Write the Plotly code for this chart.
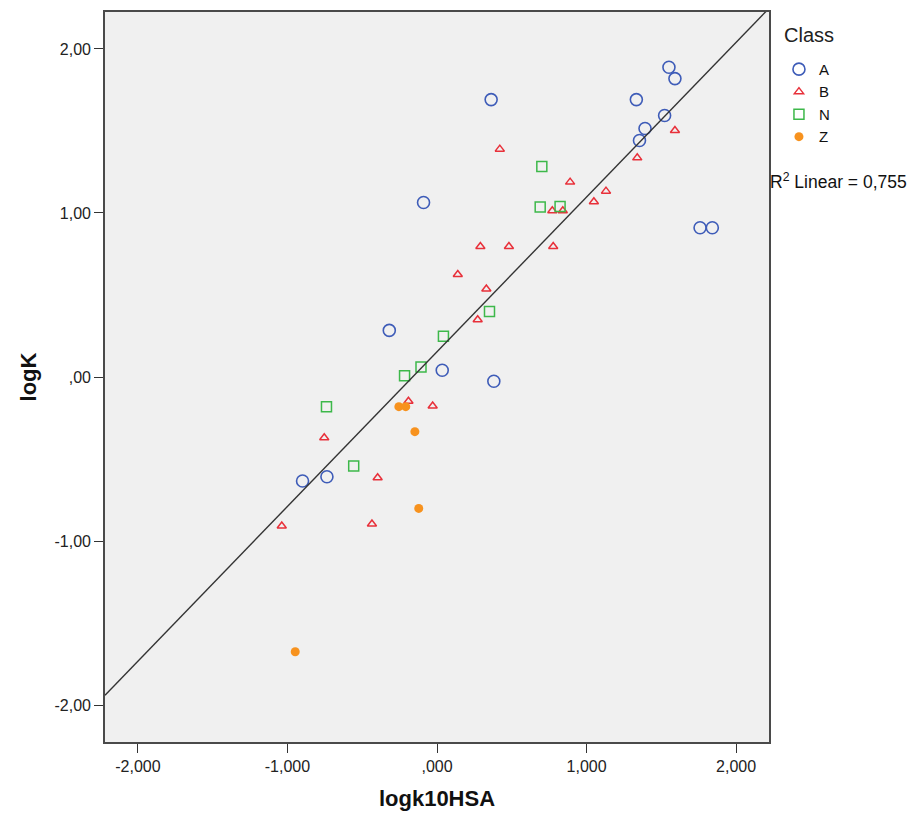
import plotly.graph_objects as go
import numpy as np

# Data
a_x = [1.551, 1.591, 0.362, 1.333, 1.522, 1.391, 1.354, -0.090, 1.759, 1.841, -0.319, 0.035, 0.380, -0.899, -0.736]
a_y = [1.888, 1.819, 1.691, 1.691, 1.594, 1.515, 1.442, 1.064, 0.910, 0.910, 0.284, 0.041, -0.026, -0.634, -0.608]

b_x = [0.420, 1.591, 1.339, 0.890, 1.130, 1.049, 0.771, 0.841, 0.290, 0.481, 0.777, 0.139, 0.330, 0.272, -0.191, -0.029, -0.754, -0.397, -0.435, -1.038]
b_y = [1.389, 1.503, 1.336, 1.188, 1.133, 1.068, 1.013, 1.013, 0.796, 0.796, 0.796, 0.625, 0.536, 0.349, -0.148, -0.177, -0.370, -0.614, -0.896, -0.908]

n_x = [0.701, 0.690, 0.823, 0.351, 0.043, -0.107, -0.217, -0.739, -0.557]
n_y = [1.283, 1.036, 1.040, 0.400, 0.248, 0.061, 0.008, -0.181, -0.543]

z_x = [-0.255, -0.209, -0.148, -0.122, -0.948]
z_y = [-0.181, -0.181, -0.333, -0.801, -1.675]

fit_slope = 0.943
fit_intercept = 0.154
r2_text = "R<sup>2</sup> Linear = 0,755"
legend_title = "Class"

x_ticks = [-2, -1, 0, 1, 2]
x_ticklabels = ["-2,000", "-1,000", ",000", "1,000", "2,000"]
y_ticks = [-2, -1, 0, 1, 2]
y_ticklabels = ["-2,00", "-1,00", ",00", "1,00", "2,00"]

x_range = [-2.22, 2.22]
y_range = [-2.225, 2.225]

FONT = "Liberation Sans, Arial, sans-serif"

fig = go.Figure()

fig.add_trace(go.Scatter(
    x=a_x, y=a_y, mode="markers", name="A",
    marker=dict(symbol="circle-open", size=12, color="#3E5CB8", line=dict(width=1.6)),
))
fig.add_trace(go.Scatter(
    x=b_x, y=b_y, mode="markers", name="B",
    marker=dict(symbol="triangle-up-open", size=8, color="#E8303A", line=dict(width=1.5)),
))
fig.add_trace(go.Scatter(
    x=n_x, y=n_y, mode="markers", name="N",
    marker=dict(symbol="square-open", size=10, color="#3DB84A", line=dict(width=1.5)),
))
fig.add_trace(go.Scatter(
    x=z_x, y=z_y, mode="markers", name="Z",
    marker=dict(symbol="circle", size=9, color="#F7921E", line=dict(width=0)),
))

lx = np.array(x_range)
fig.add_trace(go.Scatter(
    x=lx, y=fit_slope * lx + fit_intercept, mode="lines", showlegend=False,
    line=dict(color="#333333", width=1.4), hoverinfo="skip",
))

fig.add_annotation(
    x=0.998, y=0.7685, xref="paper", yref="paper",
    xanchor="left", yanchor="middle", showarrow=False,
    text=r2_text, font=dict(family=FONT, size=17.5, color="#111111"),
)
fig.add_annotation(
    x=1.019, y=0.9685, xref="paper", yref="paper",
    xanchor="left", yanchor="middle", showarrow=False,
    text=legend_title, font=dict(family=FONT, size=20, color="#222222"),
)

axis_common = dict(
    showgrid=False, zeroline=False, showline=True, linecolor="#4a4a4a", linewidth=1.6,
    mirror=True, ticks="outside", ticklen=9, tickwidth=1.3, tickcolor="#333333",
    tickfont=dict(family=FONT, size=16, color="#222222"), automargin=False,
)

fig.update_layout(
    width=915, height=821,
    margin=dict(l=105, r=146, t=12, b=79),
    paper_bgcolor="white", plot_bgcolor="#F0F0F0",
    font=dict(family=FONT, color="#111111"),
    xaxis=dict(range=x_range, tickvals=x_ticks, ticktext=x_ticklabels,
               title=dict(text="<b>logk10HSA</b>", font=dict(family=FONT, size=22), standoff=17),
               **axis_common),
    yaxis=dict(range=y_range, tickvals=y_ticks, ticktext=y_ticklabels,
               title=dict(text="<b>logK</b>", font=dict(family=FONT, size=22), standoff=12),
               **axis_common),
    legend=dict(
        x=1.015, y=0.944, xanchor="left", yanchor="top",
        font=dict(family=FONT, size=15), itemwidth=30, tracegroupgap=0,
        bgcolor="rgba(0,0,0,0)",
    ),
)

fig.write_html("out.html", config={"displayModeBar": False},
               post_script="document.body.style.margin='0';")
